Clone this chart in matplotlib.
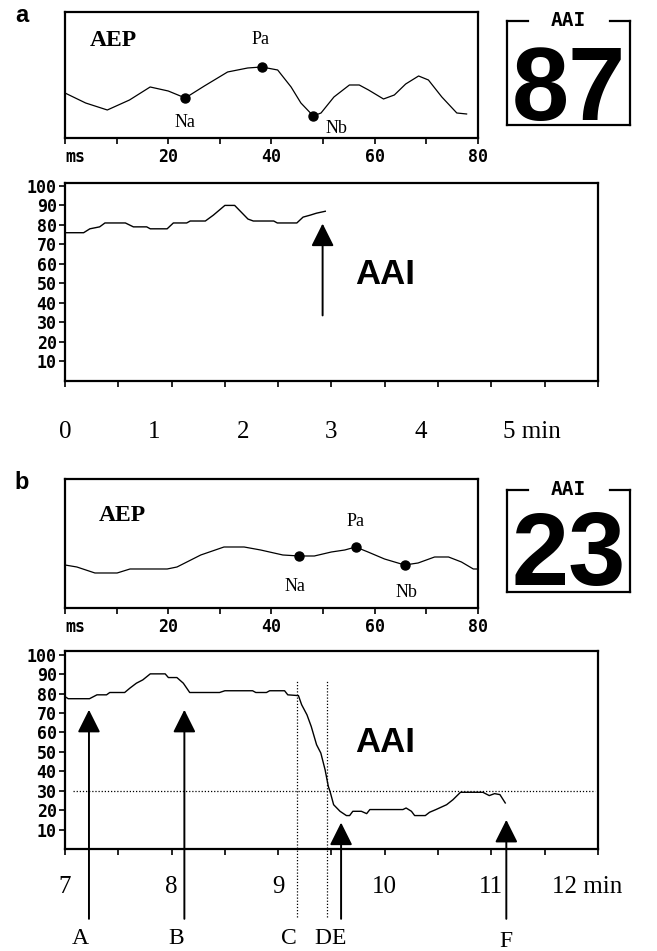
import numpy as np
import matplotlib.pyplot as plt

# ---- panel a: AEP waveform (latency ms, amplitude in monitor units)
aep_a_ms = [0, 4.0, 8.2, 12.5, 16.5, 20.0, 23.3, 27.0, 31.5, 35.4, 38.1, 41.2, 43.8,
            45.7, 48.1, 49.6, 52.1, 55.1, 57.0, 58.8, 61.7, 63.8, 66.0, 68.5, 70.4,
            73.0, 75.9, 77.8]
aep_a_amp = [45, 35, 28, 38, 51, 47, 40, 52, 66, 70, 71, 68, 51,
             35, 22, 25, 41, 53, 53, 48, 39, 43, 54, 62, 58,
             41, 25, 24]
peaks_a_ms = [23.3, 38.1, 48.1]
peaks_a_amp = [40, 71, 22]

# ---- panel a: AAI trend (min, index)
aai_a_t = [0.0, 0.21, 0.28, 0.39, 0.45, 0.68, 0.77, 0.92, 0.96, 1.15, 1.22, 1.37,
           1.41, 1.58, 1.67, 1.80, 1.91, 2.06, 2.12, 2.35, 2.39, 2.61, 2.68, 2.76,
           2.83, 2.93]
aai_a_val = [76, 76, 78, 79, 81, 81, 79, 79, 78, 78, 81, 81,
             82, 82, 85, 90, 90, 83, 82, 82, 81, 81, 84, 85,
             86, 87]
aai_a_now = 87

# ---- panel b: AEP waveform
aep_b_ms = [0, 2.3, 5.8, 10.1, 12.6, 19.8, 21.7, 26.3, 30.8, 34.7, 37.9, 42.2,
            45.4, 48.3, 51.6, 54.2, 56.3, 58.7, 61.9, 65.8, 68.4, 71.6, 74.3,
            76.8, 79.1, 80.0]
aep_b_amp = [43, 41, 35, 35, 39, 39, 41, 53, 61, 61, 58, 53,
             52, 52, 56, 58, 61, 56, 49, 43, 45, 51, 51,
             46, 39, 39]
peaks_b_ms = [45.4, 56.3, 65.8]
peaks_b_amp = [52, 61, 43]
peak_names = ['Na', 'Pa', 'Nb']

# ---- panel b: AAI trend
aai_b_t = [7.0, 7.03, 7.23, 7.30, 7.39, 7.42, 7.56, 7.61, 7.67, 7.73, 7.80, 7.94,
           7.97, 8.05, 8.11, 8.17, 8.45, 8.50, 8.76, 8.79, 8.89, 8.92, 9.06, 9.09,
           9.19, 9.22, 9.27, 9.31, 9.36, 9.40, 9.44, 9.47, 9.49, 9.52, 9.58, 9.64,
           9.67, 9.70, 9.78, 9.83, 9.86, 10.17, 10.20, 10.25, 10.28, 10.38, 10.42,
           10.48, 10.58, 10.64, 10.71, 10.92, 10.98, 11.03, 11.08, 11.13]
aai_b_val = [78.5, 77.4, 77.4, 79.4, 79.4, 80.6, 80.6, 82.9, 85.4, 87.1, 90.2, 90.2,
             88.3, 88.3, 85.4, 80.6, 80.6, 81.5, 81.5, 80.6, 80.6, 81.5, 81.5, 79.4,
             79.0, 74.3, 69.1, 63.1, 53.7, 49.4, 40.8, 32.3, 28.9, 22.8, 19.4, 17.2,
             17.2, 19.4, 19.4, 18.2, 20.3, 20.3, 21.1, 19.4, 17.2, 17.2, 18.9,
             20.3, 22.8, 25.4, 29.2, 29.2, 27.5, 28.5, 28.0, 23.7]
aai_b_now = 23
threshold = 30

events = ['A', 'B', 'C', 'D', 'E', 'F']
event_t = [7.225, 8.12, 9.18, 9.46, 9.59, 11.14]
event_kind = ['arrow', 'arrow', 'line', 'line', 'arrow', 'arrow']
event_tip = [71.7, 71.7, 87, 87, 13.6, 15]

min_a = [0, 1, 2, 3, 4, 5]
min_b = [7, 8, 9, 10, 11, 12]

SERIF = ['Liberation Serif', 'DejaVu Serif']
SANS = ['Liberation Sans', 'DejaVu Sans']
MONO = dict(fontfamily='DejaVu Sans Mono', fontweight='bold', fontsize=12)

fig = plt.figure(figsize=(6.57, 9.51), dpi=100)


def style_frame(ax):
    for s in ax.spines.values():
        s.set_linewidth(1.6)
    ax.tick_params(width=1.2, length=4, direction='out')


def aep_panel(rect, ms, amp, pk_ms, pk_amp, ytop, offsets, letter, aep_xy):
    ax = fig.add_axes(rect)
    ax.plot(ms, amp, color='k', lw=0.9)
    ax.plot(pk_ms, pk_amp, 'o', color='k', ms=6.5)
    for name, x, y, off in zip(peak_names, pk_ms, pk_amp, offsets):
        ax.annotate(name, (x, y), xytext=off, textcoords='offset points',
                    ha='center', va='center', fontsize=13, family=SERIF)
    ax.set_xlim(0, 80)
    ax.set_ylim(0, ytop)
    ax.set_xticks(np.arange(0, 81, 10))
    labels = ['ms', '', '20', '', '40', '', '60', '', '80']
    ax.set_xticklabels(labels, **MONO)
    ax.get_xticklabels()[0].set_horizontalalignment('left')
    ax.set_yticks([])
    style_frame(ax)
    ax.tick_params(axis='x', pad=3)
    ax.text(aep_xy[0], aep_xy[1], 'AEP', transform=ax.transAxes, fontsize=17,
            fontweight='bold', family=SERIF, ha='center', va='center')
    ax.text(-0.105, 0.97, letter, transform=ax.transAxes, fontsize=17,
            fontweight='bold', family=SANS, ha='center', va='center')
    return ax


def aai_box(rect, value, base):
    ax = fig.add_axes(rect)
    ax.set_xlim(0, 1)
    ax.set_ylim(0, 1)
    ax.set_xticks([])
    ax.set_yticks([])
    ax.spines['top'].set_visible(False)
    for s in ['left', 'right', 'bottom']:
        ax.spines[s].set_linewidth(1.6)
    ax.plot([0, 0.17], [1, 1], color='k', lw=1.6, clip_on=False)
    ax.plot([0.84, 1], [1, 1], color='k', lw=1.6, clip_on=False)
    ax.text(0.5, 1.0, 'AAI', ha='center', va='center', fontsize=14,
            fontfamily='DejaVu Sans Mono', fontweight='bold')
    ax.text(0.5, base, str(value), ha='center', va='baseline', fontsize=74,
            fontweight='bold', family=SANS)


def trend_panel(rect, t, val, t0, t1, step, ytop):
    ax = fig.add_axes(rect)
    ax.plot(t, val, color='k', lw=1.0)
    ax.set_xlim(t0, t1)
    ax.set_ylim(0, ytop)
    ax.set_xticks(np.arange(t0, t1 + 1e-6, step))
    ax.set_xticklabels([])
    ax.set_yticks(np.arange(10, 101, 10))
    ax.set_yticklabels([str(v) for v in range(10, 101, 10)], **MONO)
    style_frame(ax)
    ax.tick_params(axis='y', pad=2)
    ax.text(0.6, 0.54, 'AAI', transform=ax.transAxes, fontsize=25,
            fontweight='bold', family=SANS, ha='center', va='center')
    return ax


def arrow(ax, x, y0, y1):
    ax.annotate('', xy=(x, y1), xytext=(x, y0), annotation_clip=False,
                arrowprops=dict(arrowstyle='-|>,head_length=1.4,head_width=0.7',
                                mutation_scale=10, lw=1.4, color='k',
                                shrinkA=0, shrinkB=0))


def minute_labels(ax, mins, y, half):
    for m in mins[:-1]:
        ax.text(m, y, str(m), ha='center', va='center', fontsize=18,
                family=SERIF, clip_on=False)
    ax.text(mins[-1] - half, y, f'{mins[-1]} min', ha='left', va='center',
            fontsize=18, family=SERIF, clip_on=False)


# ---------------- panel a
aep_panel([0.0989, 0.8549, 0.6286, 0.1325], aep_a_ms, aep_a_amp, peaks_a_ms,
          peaks_a_amp, 126, [(0, -18), (-1, 20), (17, -9)], 'a', (0.116, 0.77))
aai_box([0.7717, 0.8686, 0.1872, 0.1094], aai_a_now, 0.05)

ax_a = trend_panel([0.0989, 0.5994, 0.8113, 0.2082], aai_a_t, aai_a_val,
                   0, 6, 0.6, 101.5)
arrow(ax_a, aai_a_t[-1] - 0.03, 33.6, 80.7)
minute_labels(ax_a, min_a, -26, 0.07)

# ---------------- panel b
aep_panel([0.0989, 0.3607, 0.6286, 0.1356], aep_b_ms, aep_b_amp, peaks_b_ms,
          peaks_b_amp, 129, [(-3, -22), (0, 18), (1, -20)], 'b', (0.138, 0.72))
aai_box([0.7717, 0.3775, 0.1872, 0.1073], aai_b_now, 0.07)

ax_b = trend_panel([0.0989, 0.1073, 0.8113, 0.2082], aai_b_t, aai_b_val,
                   7, 12, 0.5, 102)
ax_b.axhline(threshold, xmin=0.015, xmax=0.995, color='k', lw=0.9, ls=(0, (1, 1.5)))
for name, t, kind, tip in zip(events, event_t, event_kind, event_tip):
    if kind == 'arrow':
        arrow(ax_b, t, -36, tip)
    else:
        ax_b.plot([t, t], [-35, tip], color='k', lw=0.9, ls=(0, (1, 1.5)),
                  clip_on=False)
    if name == 'D':
        ax_b.text(9.50, -46, name, ha='right', va='center', fontsize=17,
                  family=SERIF, clip_on=False)
    elif name == 'E':
        ax_b.text(9.50, -46, name, ha='left', va='center', fontsize=17,
                  family=SERIF, clip_on=False)
    else:
        dy = -47.5 if name == 'F' else -46
        dx = 0.0 if name == 'F' else -0.08
        ax_b.text(t + dx, dy, name, ha='center', va='center', fontsize=17,
                  family=SERIF, clip_on=False)
minute_labels(ax_b, min_b, -19.5, 0.43)

fig.savefig('out.png', dpi=100)
